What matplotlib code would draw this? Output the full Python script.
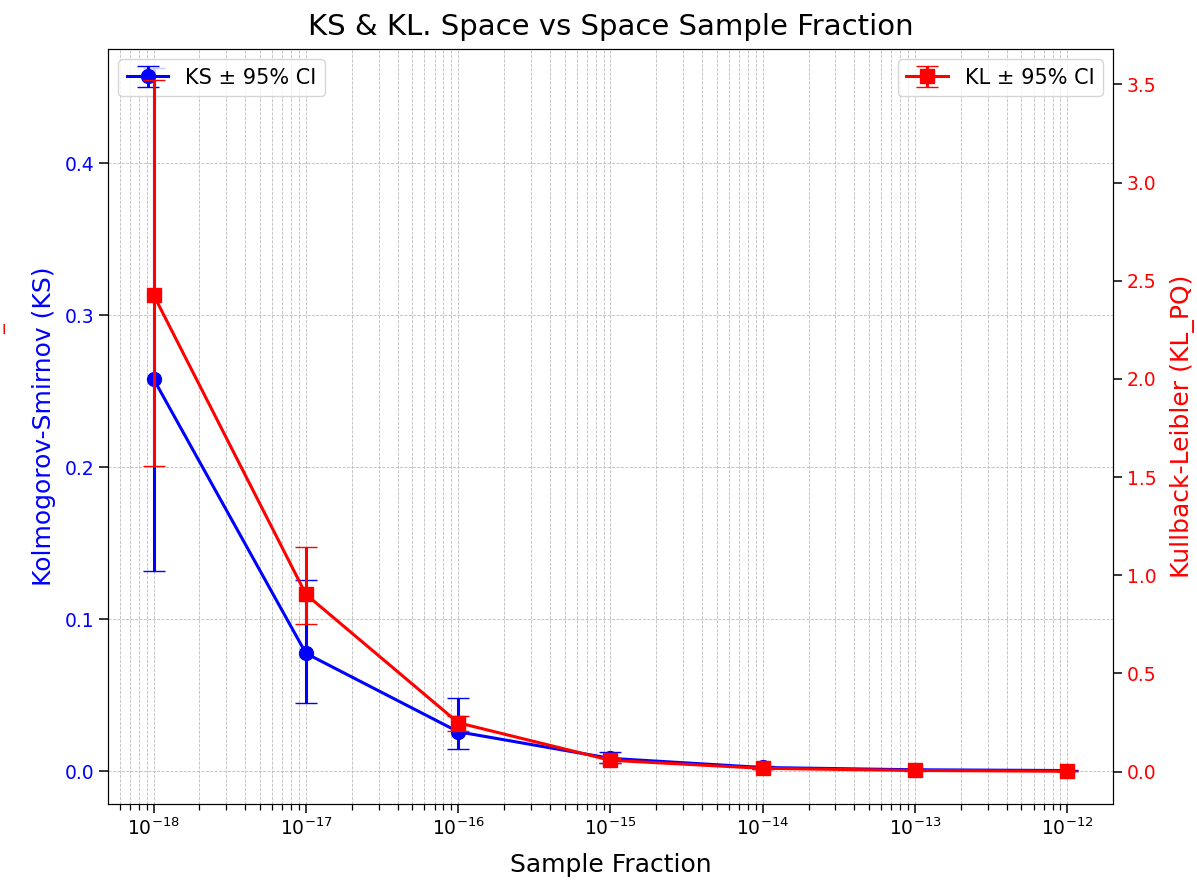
import numpy as np
import matplotlib
matplotlib.use("Agg")
from matplotlib import pyplot as plt

# sample fractions
fractions = [1e-18, 1e-17, 1e-16, 1e-15, 1e-14, 1e-13, 1e-12]

# KS mean and 95% CI bounds
ks_mean = [0.258, 0.0776, 0.026, 0.0085, 0.0025, 0.001, 0.0005]
ks_low = [0.132, 0.0451, 0.0145, 0.0055, 0.0015, 0.0006, 0.0003]
ks_high = [0.463, 0.1259, 0.048, 0.0129, 0.0035, 0.0014, 0.0007]

# KL mean and 95% CI bounds
kl_mean = [2.427, 0.903, 0.249, 0.058, 0.017, 0.006, 0.002]
kl_low = [1.557, 0.750, 0.205, 0.045, 0.012, 0.004, 0.001]
kl_high = [3.52, 1.146, 0.284, 0.070, 0.022, 0.008, 0.003]

x = np.array(fractions)
ks = np.array(ks_mean)
kl = np.array(kl_mean)
ks_err = [ks - np.array(ks_low), np.array(ks_high) - ks]
kl_err = [kl - np.array(kl_low), np.array(kl_high) - kl]

fig, ax = plt.subplots(figsize=(11.97, 8.83), dpi=100)
fig.subplots_adjust(left=0.0902, right=0.9298, bottom=0.0895, top=0.9445)

ax.errorbar(x, ks, yerr=ks_err, color='blue', marker='o', markersize=10,
            linewidth=2.2, capsize=8, label='KS ± 95% CI')
ax.set_xscale('log')
ax.set_ylim(-0.0215, 0.4752)
ax.set_xlabel('Sample Fraction', fontsize=18, labelpad=10)
ax.set_ylabel('Kolmogorov-Smirnov (KS)', color='blue', fontsize=18, labelpad=6)
ax.tick_params(axis='both', which='major', length=6.5, width=1.1)
ax.tick_params(axis='both', which='minor', length=4.2, width=0.9)
ax.tick_params(axis='y', labelcolor='blue', labelsize=13.5)
ax.tick_params(axis='x', labelsize=13.5)
ax.grid(True, which='both', linestyle='--', linewidth=0.6, color='#bbbbbb')
ax.legend(loc='upper left', fontsize=15)

ax2 = ax.twinx()
ax2.errorbar(x, kl, yerr=kl_err, color='red', marker='s', markersize=10,
             linewidth=2.2, capsize=8, label='KL ± 95% CI')
ax2.set_ylim(-0.1645, 3.680)
ax2.set_ylabel('Kullback-Leibler (KL_PQ)', color='red', fontsize=18, labelpad=10)
ax2.tick_params(axis='y', which='major', length=6.5, width=1.1,
                labelcolor='red', labelsize=13.5)
ax2.legend(loc='upper right', fontsize=15)

# stray red mark on the far left
fig.text(-0.0105, 1 - 329 / 883, '_', rotation=90, color='red', fontsize=14,
         va='center', ha='left')

ax.set_title('KS & KL. Space vs Space Sample Fraction', fontsize=21, pad=10)

plt.savefig('out.png', dpi=100)
